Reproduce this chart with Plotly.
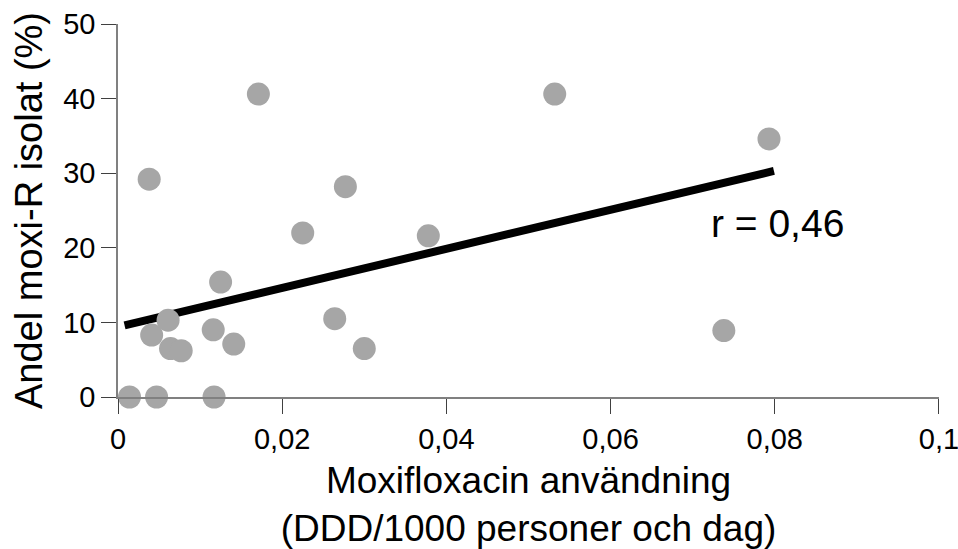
import plotly.graph_objects as go

# Data
usage = [0.0014, 0.0047, 0.0117, 0.0041, 0.0061, 0.0064, 0.0077, 0.0116, 0.0141, 0.0125,
         0.0038, 0.0171, 0.0225, 0.0277, 0.0378, 0.0264, 0.0300, 0.0532, 0.0793, 0.0738]
resistant = [0.0, 0.0, 0.0, 8.3, 10.3, 6.5, 6.2, 9.0, 7.1, 15.4,
             29.2, 40.6, 22.0, 28.2, 21.6, 10.5, 6.5, 40.6, 34.6, 8.9]

trend_x = [0.0008, 0.0799]
trend_y = [9.6, 30.3]

x_ticks = [0, 0.02, 0.04, 0.06, 0.08, 0.1]
x_ticktext = ["0", "0,02", "0,04", "0,06", "0,08", "0,1"]
y_ticks = [0, 10, 20, 30, 40, 50]

annotation_text = "r = 0,46"

FONT = "Liberation Sans, Arial, sans-serif"

fig = go.Figure()
fig.add_trace(go.Scatter(
    x=trend_x, y=trend_y, mode="lines",
    line=dict(color="black", width=8),
    hoverinfo="skip", showlegend=False, cliponaxis=False,
))
fig.add_trace(go.Scatter(
    x=usage, y=resistant, mode="markers",
    marker=dict(size=23, color="#a6a6a6", line=dict(width=0)),
    showlegend=False, cliponaxis=False,
))

fig.add_annotation(
    x=0.0803, y=23.3, xref="x", yref="y",
    text=annotation_text, showarrow=False,
    font=dict(family=FONT, size=39, color="black"),
    xanchor="center", yanchor="middle",
)

axis_common = dict(
    showline=True, linecolor="#808080", linewidth=1.5,
    ticks="outside", ticklen=15, tickwidth=1.3, tickcolor="#404040",
    showgrid=False, zeroline=False, automargin=False,
    ticklabeloverflow="allow",
    tickfont=dict(family=FONT, size=29, color="black"),
)

fig.update_xaxes(
    range=[0, 0.10001], tickvals=x_ticks, ticktext=x_ticktext,
    title=dict(text="Moxifloxacin användning<br>(DDD/1000 personer och dag)",
               font=dict(family=FONT, size=37, color="black"), standoff=19),
    **axis_common,
)
fig.update_yaxes(
    range=[0, 50], tickvals=y_ticks,
    title=dict(text="Andel moxi-R isolat (%)",
               font=dict(family=FONT, size=38, color="black"), standoff=9),
    **axis_common,
)

fig.update_layout(
    width=958, height=549,
    margin=dict(l=118, r=19, t=24, b=152),
    paper_bgcolor="white", plot_bgcolor="white",
    separators=", ",
)

fig.write_html("out.html")
